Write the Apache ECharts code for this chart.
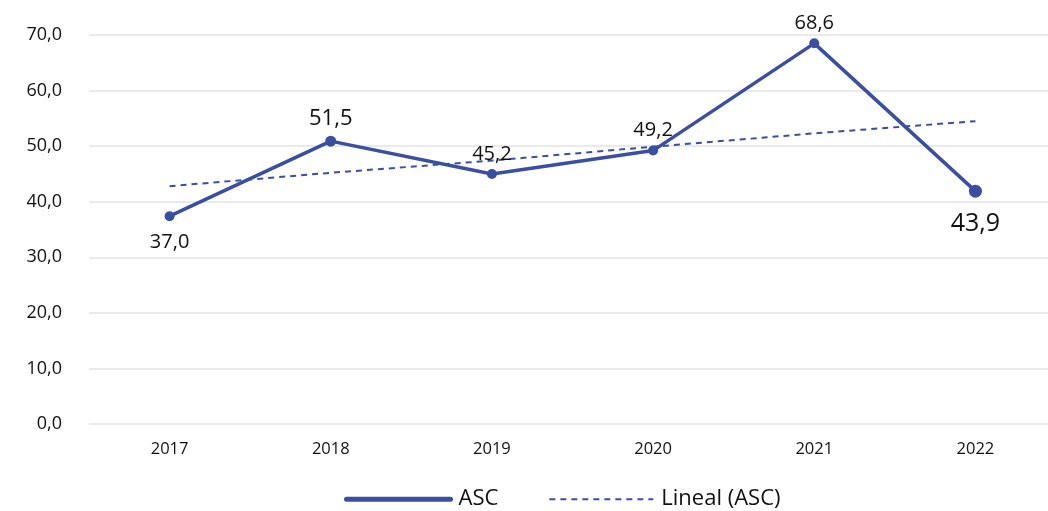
<!DOCTYPE html>
<html><head><meta charset="utf-8">
<script src="https://cdn.jsdelivr.net/npm/echarts@6/dist/echarts.min.js"></script>
<style>html,body{margin:0;padding:0;background:#fff;overflow:hidden;width:1048px;height:511px}#c{width:1056px;height:511px}</style>
</head><body><div id="c"></div>
<script>
const years = ['2017','2018','2019','2020','2021','2022'];
const ascValues = [37.4, 50.9, 45.0, 49.2, 68.5, 41.9];
const ascLabels = ['37,0','51,5','45,2','49,2','68,6','43,9'];
const trendValues = [42.8, 45.2, 47.4, 49.9, 52.3, 54.5];
const yTicks = [0,10,20,30,40,50,60,70];

const color = '#3A4F9F';
const font = '"Open Sans", "Noto Sans", sans-serif';
const labelPos = ['bottom','top','top','top','top','bottom'];
const labelSize = [20,22,20,20,20,25];
const labelDist = [11,6,5,5,5,14];
const symSize = [10,11,10,10,10,13];

const chart = echarts.init(document.getElementById('c'));
chart.setOption({
  animation:false,
  grid:{left:89,right:0,top:35,bottom:87,containLabel:false},
  legend:{
    top:483, left:339, itemWidth:104, itemHeight:28, itemGap:50,
    textStyle:{fontFamily:font,fontSize:22,color:'#111',padding:[0,0,0,3]},
    data:[{name:'ASC',lineStyle:{width:5,cap:'round'}},{name:'Lineal (ASC)'}],
    itemStyle:{opacity:0}
  },
  xAxis:{type:'category',data:years,boundaryGap:true,
    axisLine:{show:false},axisTick:{show:false},
    axisLabel:{fontFamily:font,fontSize:16.5,color:'#111',margin:17}},
  yAxis:{type:'value',min:0,max:70,interval:10,
    axisLabel:{fontFamily:font,fontSize:18,color:'#111',margin:27,
      formatter:v=>yTicks.includes(v)?v.toFixed(1).replace('.',','):''},
    splitLine:{lineStyle:{color:'#e3e3e3',width:1.5}}},
  series:[
    {name:'ASC',type:'line',z:3,
      data:ascValues.map((v,i)=>({value:v,symbolSize:symSize[i],
        label:{show:true,position:labelPos[i],distance:labelDist[i],fontSize:labelSize[i],
          formatter:ascLabels[i]}})),
      symbol:'circle',
      lineStyle:{color:color,width:3.5},
      itemStyle:{color:color},
      label:{fontFamily:font,color:'#111'}},
    {name:'Lineal (ASC)',type:'line',z:2,data:trendValues,symbol:'none',
      lineStyle:{color:color,width:2,type:[6,5]},itemStyle:{color:color}}
  ]
});
</script></body></html>
